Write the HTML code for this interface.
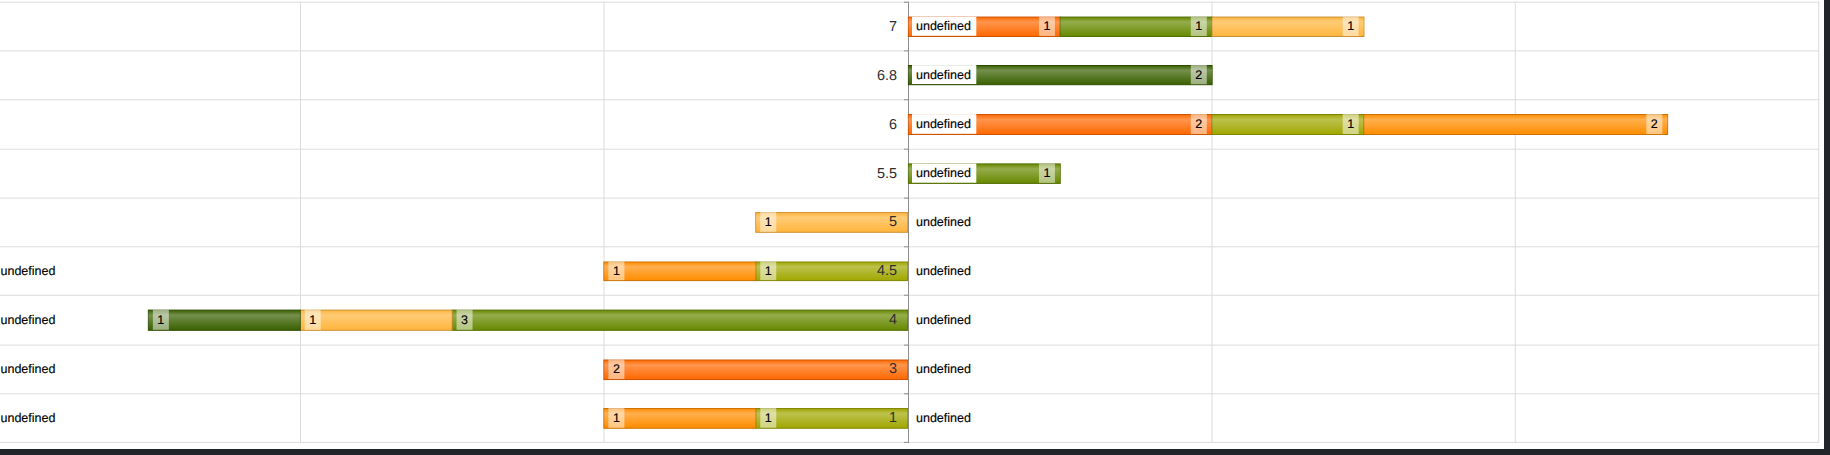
<!DOCTYPE html><html><head><meta charset="utf-8"><title>chart</title><style>
html,body{margin:0;padding:0;background:#22252a;width:1830px;height:455px;overflow:hidden}
svg{position:absolute;left:0;top:0;display:block}
text{font-family:"Liberation Sans",sans-serif;font-size:12.5px;fill:#000;stroke:#000;stroke-width:0.15px;text-rendering:geometricPrecision}
text.cat{font-size:14.4px;fill:#2e2e2e;stroke:none}
</style></head><body>
<svg width="1830" height="455" viewBox="0 0 1830 455">
<defs><linearGradient id="glass" x1="0" y1="0" x2="0" y2="1"><stop offset="0" stop-color="#fff" stop-opacity="0"/><stop offset="0.25" stop-color="#fff" stop-opacity="0.3"/><stop offset="1" stop-color="#fff" stop-opacity="0"/></linearGradient></defs>
<rect x="0" y="0" width="1824" height="449" fill="#fff"/>
<rect x="0" y="1.70" width="1819.25" height="1" fill="#dcdcdc"/>
<rect x="0" y="50.35" width="1819.25" height="1" fill="#dcdcdc"/>
<rect x="0" y="99.25" width="1819.25" height="1" fill="#dcdcdc"/>
<rect x="0" y="148.70" width="1819.25" height="1" fill="#dcdcdc"/>
<rect x="0" y="197.60" width="1819.25" height="1" fill="#dcdcdc"/>
<rect x="0" y="246.30" width="1819.25" height="1" fill="#dcdcdc"/>
<rect x="0" y="294.75" width="1819.25" height="1" fill="#dcdcdc"/>
<rect x="0" y="344.60" width="1819.25" height="1" fill="#dcdcdc"/>
<rect x="0" y="393.30" width="1819.25" height="1" fill="#dcdcdc"/>
<rect x="0" y="441.90" width="1819.25" height="1" fill="#dcdcdc"/>
<rect x="-3.50" y="1.70" width="1" height="441.20" fill="#dcdcdc"/>
<rect x="300.00" y="1.70" width="1" height="441.20" fill="#dcdcdc"/>
<rect x="603.50" y="1.70" width="1" height="441.20" fill="#dcdcdc"/>
<rect x="1211.50" y="1.70" width="1" height="441.20" fill="#dcdcdc"/>
<rect x="1514.80" y="1.70" width="1" height="441.20" fill="#dcdcdc"/>
<rect x="1818.25" y="1.70" width="1" height="441.20" fill="#dcdcdc"/>
<rect x="908.00" y="1.70" width="1" height="441.20" fill="#8e8e8e"/>
<rect x="904.00" y="1.70" width="4" height="1" fill="#8e8e8e"/>
<rect x="904.00" y="50.35" width="4" height="1" fill="#8e8e8e"/>
<rect x="904.00" y="99.25" width="4" height="1" fill="#8e8e8e"/>
<rect x="904.00" y="148.70" width="4" height="1" fill="#8e8e8e"/>
<rect x="904.00" y="197.60" width="4" height="1" fill="#8e8e8e"/>
<rect x="904.00" y="246.30" width="4" height="1" fill="#8e8e8e"/>
<rect x="904.00" y="294.75" width="4" height="1" fill="#8e8e8e"/>
<rect x="904.00" y="344.60" width="4" height="1" fill="#8e8e8e"/>
<rect x="904.00" y="393.30" width="4" height="1" fill="#8e8e8e"/>
<rect x="904.00" y="441.90" width="4" height="1" fill="#8e8e8e"/>
<rect x="908.40" y="17.05" width="151.85" height="19.45" fill="#ff6800" stroke="#cc5300" stroke-width="1"/>
<rect x="908.40" y="17.05" width="151.85" height="19.45" fill="url(#glass)"/>
<rect x="1038.95" y="16.55" width="16.00" height="19.45" fill="#fff" fill-opacity="0.5"/>
<text x="1046.95" y="29.80" text-anchor="middle">1</text>
<rect x="1060.25" y="17.05" width="151.85" height="19.45" fill="#678900" stroke="#526d00" stroke-width="1"/>
<rect x="1060.25" y="17.05" width="151.85" height="19.45" fill="url(#glass)"/>
<rect x="1190.80" y="16.55" width="16.00" height="19.45" fill="#fff" fill-opacity="0.5"/>
<text x="1198.80" y="29.80" text-anchor="middle">1</text>
<rect x="1212.10" y="17.05" width="151.85" height="19.45" fill="#ffb53c" stroke="#cc9030" stroke-width="1"/>
<rect x="1212.10" y="17.05" width="151.85" height="19.45" fill="url(#glass)"/>
<rect x="1342.65" y="16.55" width="16.00" height="19.45" fill="#fff" fill-opacity="0.5"/>
<text x="1350.65" y="29.80" text-anchor="middle">1</text>
<rect x="912.00" y="16.65" width="64.30" height="19.15" fill="#fff"/>
<text x="916.00" y="29.80">undefined</text>
<text class="cat" x="897.00" y="30.80" text-anchor="end">7</text>
<rect x="908.40" y="65.50" width="303.70" height="19.20" fill="#396000" stroke="#2d4c00" stroke-width="1"/>
<rect x="908.40" y="65.50" width="303.70" height="19.20" fill="url(#glass)"/>
<rect x="1190.80" y="65.00" width="16.00" height="19.20" fill="#fff" fill-opacity="0.5"/>
<text x="1198.80" y="78.80" text-anchor="middle">2</text>
<rect x="912.00" y="65.10" width="64.30" height="18.90" fill="#fff"/>
<text x="916.00" y="78.80">undefined</text>
<text class="cat" x="897.00" y="79.80" text-anchor="end">6.8</text>
<rect x="908.40" y="114.50" width="303.70" height="20.00" fill="#ff6800" stroke="#cc5300" stroke-width="1"/>
<rect x="908.40" y="114.50" width="303.70" height="20.00" fill="url(#glass)"/>
<rect x="1190.80" y="114.00" width="16.00" height="20.00" fill="#fff" fill-opacity="0.5"/>
<text x="1198.80" y="127.80" text-anchor="middle">2</text>
<rect x="1212.10" y="114.50" width="151.85" height="20.00" fill="#a0a700" stroke="#808500" stroke-width="1"/>
<rect x="1212.10" y="114.50" width="151.85" height="20.00" fill="url(#glass)"/>
<rect x="1342.65" y="114.00" width="16.00" height="20.00" fill="#fff" fill-opacity="0.5"/>
<text x="1350.65" y="127.80" text-anchor="middle">1</text>
<rect x="1363.95" y="114.50" width="303.70" height="20.00" fill="#ff8d00" stroke="#cc7000" stroke-width="1"/>
<rect x="1363.95" y="114.50" width="303.70" height="20.00" fill="url(#glass)"/>
<rect x="1646.35" y="114.00" width="16.00" height="20.00" fill="#fff" fill-opacity="0.5"/>
<text x="1654.35" y="127.80" text-anchor="middle">2</text>
<rect x="912.00" y="114.10" width="64.30" height="19.70" fill="#fff"/>
<text x="916.00" y="127.80">undefined</text>
<text class="cat" x="897.00" y="128.80" text-anchor="end">6</text>
<rect x="908.40" y="163.90" width="151.85" height="19.50" fill="#678900" stroke="#526d00" stroke-width="1"/>
<rect x="908.40" y="163.90" width="151.85" height="19.50" fill="url(#glass)"/>
<rect x="1038.95" y="163.40" width="16.00" height="19.50" fill="#fff" fill-opacity="0.5"/>
<text x="1046.95" y="176.80" text-anchor="middle">1</text>
<rect x="912.00" y="163.50" width="64.30" height="19.20" fill="#fff"/>
<text x="916.00" y="176.80">undefined</text>
<text class="cat" x="897.00" y="177.80" text-anchor="end">5.5</text>
<rect x="755.75" y="212.60" width="151.85" height="19.70" fill="#ffb53c" stroke="#cc9030" stroke-width="1"/>
<rect x="755.75" y="212.60" width="151.85" height="19.70" fill="url(#glass)"/>
<rect x="760.25" y="212.10" width="16.00" height="19.70" fill="#fff" fill-opacity="0.5"/>
<text x="768.25" y="225.80" text-anchor="middle">1</text>
<text x="916.00" y="225.80">undefined</text>
<text class="cat" x="897.00" y="225.80" text-anchor="end">5</text>
<rect x="755.75" y="262.00" width="151.85" height="18.60" fill="#a0a700" stroke="#808500" stroke-width="1"/>
<rect x="755.75" y="262.00" width="151.85" height="18.60" fill="url(#glass)"/>
<rect x="760.25" y="261.50" width="16.00" height="18.60" fill="#fff" fill-opacity="0.5"/>
<text x="768.25" y="274.80" text-anchor="middle">1</text>
<rect x="603.90" y="262.00" width="151.85" height="18.60" fill="#ff8d00" stroke="#cc7000" stroke-width="1"/>
<rect x="603.90" y="262.00" width="151.85" height="18.60" fill="url(#glass)"/>
<rect x="608.40" y="261.50" width="16.00" height="18.60" fill="#fff" fill-opacity="0.5"/>
<text x="616.40" y="274.80" text-anchor="middle">1</text>
<text x="916.00" y="274.80">undefined</text>
<text class="cat" x="897.00" y="274.80" text-anchor="end">4.5</text>
<text x="0.5" y="274.80">undefined</text>
<rect x="452.05" y="310.10" width="455.55" height="20.20" fill="#678900" stroke="#526d00" stroke-width="1"/>
<rect x="452.05" y="310.10" width="455.55" height="20.20" fill="url(#glass)"/>
<rect x="456.55" y="309.60" width="16.00" height="20.20" fill="#fff" fill-opacity="0.5"/>
<text x="464.55" y="323.80" text-anchor="middle">3</text>
<rect x="300.20" y="310.10" width="151.85" height="20.20" fill="#ffb53c" stroke="#cc9030" stroke-width="1"/>
<rect x="300.20" y="310.10" width="151.85" height="20.20" fill="url(#glass)"/>
<rect x="304.70" y="309.60" width="16.00" height="20.20" fill="#fff" fill-opacity="0.5"/>
<text x="312.70" y="323.80" text-anchor="middle">1</text>
<rect x="148.35" y="310.10" width="151.85" height="20.20" fill="#396000" stroke="#2d4c00" stroke-width="1"/>
<rect x="148.35" y="310.10" width="151.85" height="20.20" fill="url(#glass)"/>
<rect x="152.85" y="309.60" width="16.00" height="20.20" fill="#fff" fill-opacity="0.5"/>
<text x="160.85" y="323.80" text-anchor="middle">1</text>
<text x="916.00" y="323.80">undefined</text>
<text class="cat" x="897.00" y="323.80" text-anchor="end">4</text>
<text x="0.5" y="323.80">undefined</text>
<rect x="603.90" y="360.00" width="303.70" height="19.55" fill="#ff6800" stroke="#cc5300" stroke-width="1"/>
<rect x="603.90" y="360.00" width="303.70" height="19.55" fill="url(#glass)"/>
<rect x="608.40" y="359.50" width="16.00" height="19.55" fill="#fff" fill-opacity="0.5"/>
<text x="616.40" y="372.80" text-anchor="middle">2</text>
<text x="916.00" y="372.80">undefined</text>
<text class="cat" x="897.00" y="372.80" text-anchor="end">3</text>
<text x="0.5" y="372.80">undefined</text>
<rect x="755.75" y="408.55" width="151.85" height="19.70" fill="#a0a700" stroke="#808500" stroke-width="1"/>
<rect x="755.75" y="408.55" width="151.85" height="19.70" fill="url(#glass)"/>
<rect x="760.25" y="408.05" width="16.00" height="19.70" fill="#fff" fill-opacity="0.5"/>
<text x="768.25" y="421.80" text-anchor="middle">1</text>
<rect x="603.90" y="408.55" width="151.85" height="19.70" fill="#ff8d00" stroke="#cc7000" stroke-width="1"/>
<rect x="603.90" y="408.55" width="151.85" height="19.70" fill="url(#glass)"/>
<rect x="608.40" y="408.05" width="16.00" height="19.70" fill="#fff" fill-opacity="0.5"/>
<text x="616.40" y="421.80" text-anchor="middle">1</text>
<text x="916.00" y="421.80">undefined</text>
<text class="cat" x="897.00" y="421.80" text-anchor="end">1</text>
<text x="0.5" y="421.80">undefined</text>
</svg></body></html>
